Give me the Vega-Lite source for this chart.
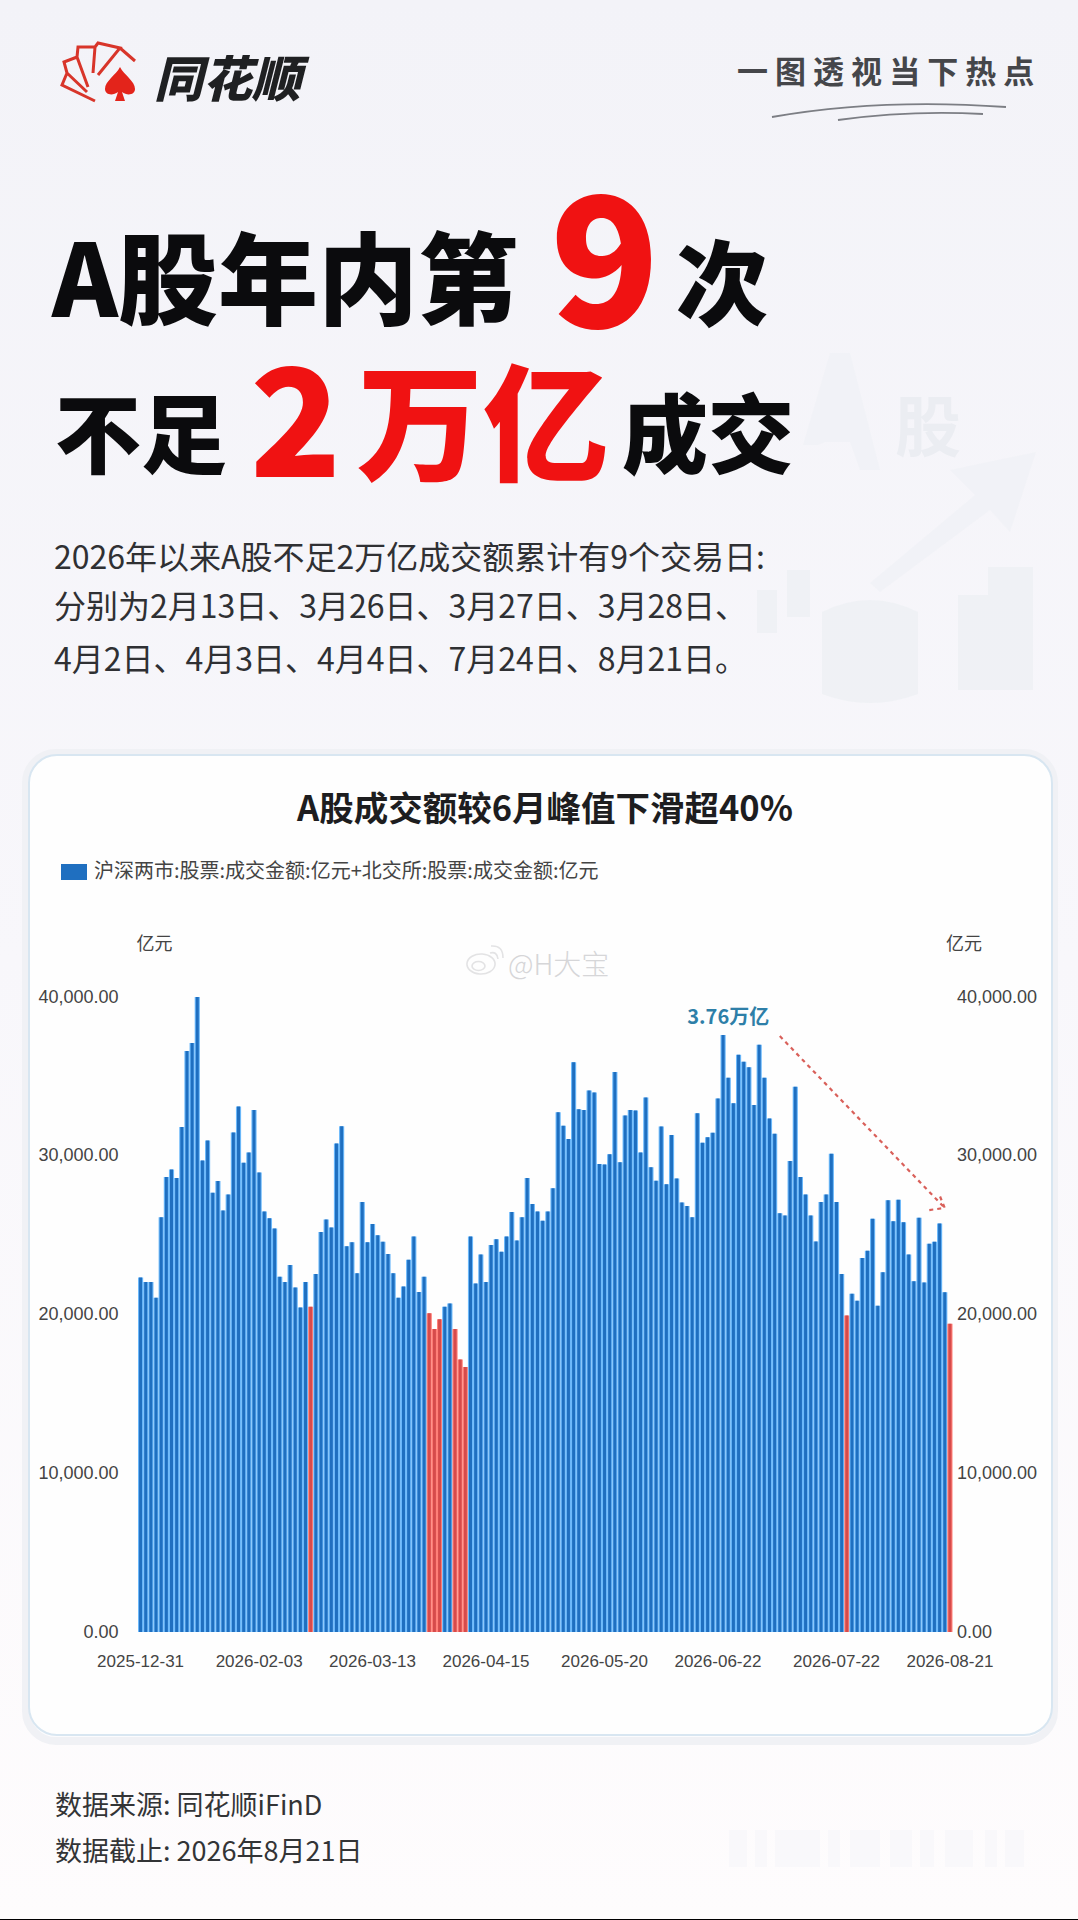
{
  "$schema": "https://vega.github.io/schema/vega-lite/v6.json",
  "description": "A股成交额较6月峰值下滑超40%",
  "width": 814.5,
  "height": 635,
  "padding": {"left": 138, "top": 997, "right": 125.5, "bottom": 288},
  "autosize": {"type": "none"},
  "background": "#f8f7fa",
  "config": {"font": "Noto Sans CJK SC", "view": {"stroke": null}},
  "datasets": {
    "turnover": [
      {"date":"2025-12-31","amount":22323,"status":"常规"},{"date":"2026-01-02","amount":22041,"status":"常规"},{"date":"2026-01-05","amount":22041,"status":"常规"},{"date":"2026-01-06","amount":21056,"status":"常规"},{"date":"2026-01-07","amount":26123,"status":"常规"},{"date":"2026-01-08","amount":28657,"status":"常规"},{"date":"2026-01-09","amount":29135,"status":"常规"},{"date":"2026-01-12","amount":28600,"status":"常规"},{"date":"2026-01-13","amount":31810,"status":"常规"},{"date":"2026-01-14","amount":36595,"status":"常规"},
      {"date":"2026-01-15","amount":37102,"status":"常规"},{"date":"2026-01-16","amount":40000,"status":"常规"},{"date":"2026-01-19","amount":29698,"status":"常规"},{"date":"2026-01-20","amount":30965,"status":"常规"},{"date":"2026-01-21","amount":27671,"status":"常规"},{"date":"2026-01-22","amount":28403,"status":"常规"},{"date":"2026-01-23","amount":26545,"status":"常规"},{"date":"2026-01-26","amount":27559,"status":"常规"},{"date":"2026-01-27","amount":31472,"status":"常规"},{"date":"2026-01-28","amount":33104,"status":"常规"},
      {"date":"2026-01-29","amount":29558,"status":"常规"},{"date":"2026-01-30","amount":30205,"status":"常规"},{"date":"2026-02-02","amount":32879,"status":"常规"},{"date":"2026-02-03","amount":28938,"status":"常规"},{"date":"2026-02-04","amount":26489,"status":"常规"},{"date":"2026-02-05","amount":26067,"status":"常规"},{"date":"2026-02-06","amount":25419,"status":"常规"},{"date":"2026-02-07","amount":22379,"status":"常规"},{"date":"2026-02-08","amount":22041,"status":"常规"},{"date":"2026-02-09","amount":23111,"status":"常规"},
      {"date":"2026-02-10","amount":21704,"status":"常规"},{"date":"2026-02-11","amount":20437,"status":"常规"},{"date":"2026-02-12","amount":22041,"status":"常规"},{"date":"2026-02-13","amount":20493,"status":"不足2万亿"},{"date":"2026-02-26","amount":22548,"status":"常规"},{"date":"2026-02-27","amount":25194,"status":"常规"},{"date":"2026-03-02","amount":25982,"status":"常规"},{"date":"2026-03-03","amount":25476,"status":"常规"},{"date":"2026-03-04","amount":30768,"status":"常规"},{"date":"2026-03-05","amount":31866,"status":"常规"},
      {"date":"2026-03-06","amount":24293,"status":"常规"},{"date":"2026-03-09","amount":24547,"status":"常规"},{"date":"2026-03-10","amount":22604,"status":"常规"},{"date":"2026-03-11","amount":27080,"status":"常规"},{"date":"2026-03-12","amount":24547,"status":"常规"},{"date":"2026-03-13","amount":25701,"status":"常规"},{"date":"2026-03-16","amount":24997,"status":"常规"},{"date":"2026-03-17","amount":24575,"status":"常规"},{"date":"2026-03-18","amount":23815,"status":"常规"},{"date":"2026-03-19","amount":22604,"status":"常规"},
      {"date":"2026-03-20","amount":21056,"status":"常规"},{"date":"2026-03-21","amount":21760,"status":"常规"},{"date":"2026-03-22","amount":23449,"status":"常规"},{"date":"2026-03-23","amount":24913,"status":"常规"},{"date":"2026-03-24","amount":21422,"status":"常规"},{"date":"2026-03-25","amount":22379,"status":"常规"},{"date":"2026-03-26","amount":20071,"status":"不足2万亿"},{"date":"2026-03-27","amount":19086,"status":"不足2万亿"},{"date":"2026-03-28","amount":19705,"status":"不足2万亿"},{"date":"2026-03-31","amount":20493,"status":"常规"},
      {"date":"2026-04-01","amount":20690,"status":"常规"},{"date":"2026-04-02","amount":19086,"status":"不足2万亿"},{"date":"2026-04-03","amount":17172,"status":"不足2万亿"},{"date":"2026-04-04","amount":16693,"status":"不足2万亿"},{"date":"2026-04-10","amount":24913,"status":"常规"},{"date":"2026-04-13","amount":21957,"status":"常规"},{"date":"2026-04-14","amount":23787,"status":"常规"},{"date":"2026-04-15","amount":22041,"status":"常规"},{"date":"2026-04-16","amount":24378,"status":"常规"},{"date":"2026-04-17","amount":24744,"status":"常规"},
      {"date":"2026-04-20","amount":23956,"status":"常规"},{"date":"2026-04-21","amount":24913,"status":"常规"},{"date":"2026-04-22","amount":26461,"status":"常规"},{"date":"2026-04-23","amount":24659,"status":"常规"},{"date":"2026-04-24","amount":26123,"status":"常规"},{"date":"2026-04-27","amount":28600,"status":"常规"},{"date":"2026-04-28","amount":26968,"status":"常规"},{"date":"2026-04-29","amount":26489,"status":"常规"},{"date":"2026-04-30","amount":25898,"status":"常规"},{"date":"2026-05-05","amount":26489,"status":"常规"},
      {"date":"2026-05-06","amount":27953,"status":"常规"},{"date":"2026-05-07","amount":32738,"status":"常规"},{"date":"2026-05-08","amount":31894,"status":"常规"},{"date":"2026-05-11","amount":31049,"status":"常规"},{"date":"2026-05-12","amount":35891,"status":"常规"},{"date":"2026-05-13","amount":32936,"status":"常规"},{"date":"2026-05-14","amount":32879,"status":"常规"},{"date":"2026-05-15","amount":34118,"status":"常规"},{"date":"2026-05-18","amount":33977,"status":"常规"},{"date":"2026-05-19","amount":29473,"status":"常规"},
      {"date":"2026-05-20","amount":29445,"status":"常规"},{"date":"2026-05-21","amount":30092,"status":"常规"},{"date":"2026-05-22","amount":35272,"status":"常规"},{"date":"2026-05-25","amount":29586,"status":"常规"},{"date":"2026-05-26","amount":32541,"status":"常规"},{"date":"2026-05-27","amount":32879,"status":"常规"},{"date":"2026-05-28","amount":32851,"status":"常规"},{"date":"2026-05-29","amount":30205,"status":"常规"},{"date":"2026-06-01","amount":33667,"status":"常规"},{"date":"2026-06-02","amount":29276,"status":"常规"},
      {"date":"2026-06-03","amount":28432,"status":"常规"},{"date":"2026-06-04","amount":31838,"status":"常规"},{"date":"2026-06-05","amount":28206,"status":"常规"},{"date":"2026-06-08","amount":31303,"status":"常规"},{"date":"2026-06-09","amount":28572,"status":"常规"},{"date":"2026-06-10","amount":27052,"status":"常规"},{"date":"2026-06-11","amount":26827,"status":"常规"},{"date":"2026-06-12","amount":26123,"status":"常规"},{"date":"2026-06-15","amount":32682,"status":"常规"},{"date":"2026-06-16","amount":30824,"status":"常规"},
      {"date":"2026-06-17","amount":31162,"status":"常规"},{"date":"2026-06-18","amount":31444,"status":"常规"},{"date":"2026-06-22","amount":33611,"status":"常规"},{"date":"2026-06-23","amount":37600,"status":"常规"},{"date":"2026-06-24","amount":34906,"status":"常规"},{"date":"2026-06-25","amount":33301,"status":"常规"},{"date":"2026-06-26","amount":36370,"status":"常规"},{"date":"2026-06-27","amount":35919,"status":"常规"},{"date":"2026-06-29","amount":35582,"status":"常规"},{"date":"2026-06-30","amount":33189,"status":"常规"},
      {"date":"2026-07-01","amount":36989,"status":"常规"},{"date":"2026-07-02","amount":34906,"status":"常规"},{"date":"2026-07-03","amount":32344,"status":"常规"},{"date":"2026-07-06","amount":31387,"status":"常规"},{"date":"2026-07-07","amount":26377,"status":"常规"},{"date":"2026-07-08","amount":26236,"status":"常规"},{"date":"2026-07-09","amount":29670,"status":"常规"},{"date":"2026-07-10","amount":34343,"status":"常规"},{"date":"2026-07-13","amount":28657,"status":"常规"},{"date":"2026-07-14","amount":27559,"status":"常规"},
      {"date":"2026-07-15","amount":26236,"status":"常规"},{"date":"2026-07-16","amount":24603,"status":"常规"},{"date":"2026-07-17","amount":27080,"status":"常规"},{"date":"2026-07-20","amount":27559,"status":"常规"},{"date":"2026-07-21","amount":30121,"status":"常规"},{"date":"2026-07-22","amount":27080,"status":"常规"},{"date":"2026-07-23","amount":22548,"status":"常规"},{"date":"2026-07-24","amount":19930,"status":"不足2万亿"},{"date":"2026-07-27","amount":21310,"status":"常规"},{"date":"2026-07-28","amount":20859,"status":"常规"},
      {"date":"2026-07-29","amount":23562,"status":"常规"},{"date":"2026-07-30","amount":24012,"status":"常规"},{"date":"2026-07-31","amount":26039,"status":"常规"},{"date":"2026-08-03","amount":20550,"status":"常规"},{"date":"2026-08-04","amount":22661,"status":"常规"},{"date":"2026-08-05","amount":27193,"status":"常规"},{"date":"2026-08-06","amount":25870,"status":"常规"},{"date":"2026-08-07","amount":27221,"status":"常规"},{"date":"2026-08-10","amount":25814,"status":"常规"},{"date":"2026-08-11","amount":23787,"status":"常规"},
      {"date":"2026-08-12","amount":22098,"status":"常规"},{"date":"2026-08-13","amount":26095,"status":"常规"},{"date":"2026-08-14","amount":22013,"status":"常规"},{"date":"2026-08-17","amount":24462,"status":"常规"},{"date":"2026-08-18","amount":24575,"status":"常规"},{"date":"2026-08-19","amount":25729,"status":"常规"},{"date":"2026-08-20","amount":21394,"status":"常规"},{"date":"2026-08-21","amount":19424,"status":"不足2万亿"}
    ],
    "trend": [
      {"date":"2026-07-07","amount":37540,"part":"shaft","step":1},{"date":"2026-08-20","amount":26710,"part":"shaft","step":2},
      {"date":"2026-08-17","amount":26580,"part":"head","step":1},{"date":"2026-08-20","amount":26710,"part":"head","step":2},{"date":"2026-08-19","amount":27500,"part":"head","step":3}
    ],
    "blank": [{"id": 1}]
  },
  "resolve": {"axis": {"y": "independent"}},
  "layer": [
    {"data": {"name": "blank"}, "mark": {"type": "rect", "fill": {"gradient": "linear", "x1": 0, "y1": 0, "x2": 0, "y2": 1, "stops": [{"offset": 0, "color": "#f3f3f8"}, {"offset": 0.5, "color": "#f8f7fb"}, {"offset": 1, "color": "#fefcfd"}]}},
      "encoding": {"x": {"value": -138}, "x2": {"value": 940}, "y": {"value": -997}, "y2": {"value": 922}}},
    {"data": {"name": "blank"}, "mark": {"type": "rect", "fill": "#000000"}, "encoding": {"x": {"value": -138}, "x2": {"value": 940}, "y": {"value": 922}, "y2": {"value": 923}}},
    {"data": {"name": "blank"}, "mark": {"type": "point", "filled": true, "fill": "#eef0f4", "opacity": 0.8, "size": 4,
      "shape": "M757,590h20v43h-20Z M787,570h23v47h-23Z M822,612q48,-24 96,0v82q-48,18 -96,0Z M958,595h30v95h-30Z M988,567h45v123h-45Z"},
      "encoding": {"x": {"value": -138}, "y": {"value": -997}}},
    {"data": {"name": "blank"}, "mark": {"type": "point", "filled": true, "fill": "#f1f2f6", "opacity": 0.9, "size": 4,
      "shape": "M803,445L830,353H850L880,470H860L850,442H825L818,445Z M870,583L975,495L950,470L1036,452L1010,532L990,510L880,592Z"},
      "encoding": {"x": {"value": -138}, "y": {"value": -997}}},
    {"data": {"values": [{"t": "股"}]}, "mark": {"type": "text", "align": "left", "baseline": "alphabetic", "fontSize": 66, "fontWeight": 700, "color": "#ebedf2"},
      "encoding": {"x": {"value": 757}, "y": {"value": -546}, "text": {"field": "t"}}},
    {"data": {"name": "blank"}, "mark": {"type": "point", "filled": true, "fill": "#f6f6f9", "size": 4,
      "shape": "M729,1830h18v37h-18Z M755,1830h12v37h-12Z M775,1830h45v37h-45Z M828,1830h12v37h-12Z M850,1830h30v37h-30Z M890,1830h22v37h-22Z M920,1830h14v37h-14Z M945,1830h28v37h-28Z M985,1830h12v37h-12Z M1005,1830h19v37h-19Z"},
      "encoding": {"x": {"value": -138}, "y": {"value": -997}}},
    {"data": {"name": "blank"}, "mark": {"type": "rect", "fill": "#fbfbfd", "stroke": "#f0f1f5", "strokeWidth": 8, "cornerRadius": 30},
      "encoding": {"x": {"value": -112}, "x2": {"value": 916}, "y": {"value": -244}, "y2": {"value": 744}}},
    {"data": {"name": "blank"}, "mark": {"type": "rect", "fill": "#fefefe", "stroke": "#d8e6f1", "strokeWidth": 2, "cornerRadius": 28},
      "encoding": {"x": {"value": -109}, "x2": {"value": 914}, "y": {"value": -242}, "y2": {"value": 738}}},
    {"data": {"values": [{"t": "A股成交额较6月峰值下滑超40%"}]}, "mark": {"type": "text", "align": "center", "baseline": "middle", "fontSize": 34.5, "fontWeight": 700, "color": "#1d1d1f"},
      "encoding": {"x": {"value": 407}, "y": {"value": -186}, "text": {"field": "t"}}},

    {"data": {"name": "turnover"},
      "mark": {"type": "bar", "width": {"band": 1}},
      "encoding": {
        "x": {"field": "date", "type": "nominal", "title": null,
          "scale": {"type": "band", "paddingInner": 0, "paddingOuter": 0},
          "axis": {"zindex": 1, "orient": "bottom", "labelExpr": "indexof(['2025-12-31','2026-02-03','2026-03-13','2026-04-15','2026-05-20','2026-06-22','2026-07-22','2026-08-21'], datum.value) >= 0 ? datum.value : ''", "labelAngle": 0, "labelFontSize": 17, "labelFont": "Liberation Sans", "labelColor": "#444444", "labelPadding": 21, "domain": false, "ticks": false, "labelOverlap": false, "labelBound": false, "labelFlush": false}},
        "y": {"field": "amount", "type": "quantitative", "scale": {"domain": [0, 40000]},
          "axis": {"zindex": 1, "orient": "left", "values": [0, 10000, 20000, 30000, 40000], "format": ",.2f", "grid": false, "domain": false, "ticks": false, "labelFontSize": 18, "labelFont": "Liberation Sans", "labelColor": "#444444", "labelPadding": 20,
            "title": "亿元", "titleAngle": 0, "titleFontSize": 18, "titleFontWeight": 400, "titleColor": "#444444", "titleX": 16, "titleY": -53, "titleAlign": "center", "titleBaseline": "middle"}},
        "color": {"condition": {"test": "datum.status === '不足2万亿'", "value": "#ff8078"}, "value": "#6bb8fa"}
      }},
    {"data": {"name": "turnover"},
      "mark": {"type": "bar", "width": {"band": 0.58}},
      "encoding": {
        "x": {"field": "date", "type": "nominal", "title": null},
        "y": {"field": "amount", "type": "quantitative", "scale": {"domain": [0, 40000]},
          "axis": {"zindex": 1, "orient": "right", "values": [0, 10000, 20000, 30000, 40000], "format": ",.2f", "grid": false, "domain": false, "ticks": false, "labelFontSize": 18, "labelFont": "Liberation Sans", "labelColor": "#444444", "labelPadding": 4,
            "title": "亿元", "titleAngle": 0, "titleFontSize": 18, "titleFontWeight": 400, "titleColor": "#444444", "titleX": 11, "titleY": -53, "titleAlign": "center", "titleBaseline": "middle"}},
        "color": {"field": "status", "type": "nominal",
          "scale": {"domain": ["常规", "不足2万亿"], "range": ["#1f6fc0", "#d64b4b"]},
          "legend": {"values": ["常规"], "labelExpr": "'沪深两市:股票:成交金额:亿元+北交所:股票:成交金额:亿元'", "title": null, "orient": "none", "legendX": -74, "legendY": -135, "symbolType": "M-1.3,-.8H1.3V.8H-1.3Z", "symbolSize": 400, "symbolStrokeWidth": 0, "labelFontSize": 20, "labelOffset": 10, "labelColor": "#444444", "labelLimit": 620}}
      }},

    {"data": {"name": "trend"},
      "mark": {"type": "line", "color": "#d9605a", "strokeWidth": 2.2, "strokeDash": [4, 4]},
      "encoding": {
        "x": {"field": "date", "type": "nominal", "title": null},
        "y": {"field": "amount", "type": "quantitative", "axis": null},
        "detail": {"field": "part"},
        "order": {"field": "step"}
      }},
    {"data": {"values": [{"date": "2026-06-24", "amount": 38680, "label": "3.76万亿"}]},
      "mark": {"type": "text", "fontSize": 20, "fontWeight": 700, "color": "#2e7fa8"},
      "encoding": {
        "x": {"field": "date", "type": "nominal", "title": null},
        "y": {"field": "amount", "type": "quantitative", "axis": null},
        "text": {"field": "label"}
      }},

    {"data": {"name": "blank"}, "mark": {"type": "point", "filled": false, "stroke": "#d8d8da", "strokeWidth": 1.6, "size": 4,
      "shape": "M467,963a14,10 0 1,0 28,2a14,10 0 1,0 -28,-2Z M472,966a6.5,4.5 0 1,0 13,0a6.5,4.5 0 1,0 -13,0Z M490,953q7,-2 8,6 M491,946q12,-1 12,12"},
      "encoding": {"x": {"value": -138}, "y": {"value": -997}}},
    {"data": {"values": [{"t": "@H大宝"}]}, "mark": {"type": "text", "align": "left", "baseline": "alphabetic", "fontSize": 28, "fontWeight": 300, "color": "#d6d6d8"},
      "encoding": {"x": {"value": 370}, "y": {"value": -22}, "text": {"field": "t"}}},

    {"data": {"name": "blank"}, "mark": {"type": "point", "filled": false, "stroke": "#d8352a", "strokeWidth": 3, "opacity": 1, "size": 4,
      "shape": "M95,101L62,85L67,73L87,92 M67,73L64,62L77,57L88,87 M77,57L78,47L95,47L93,73 M95,47L98,43L120,48L98,75 M120,48L135,61"},
      "encoding": {"x": {"value": -138}, "y": {"value": -997}}},
    {"data": {"name": "blank"}, "mark": {"type": "point", "filled": true, "fill": "#e3241b", "opacity": 1, "size": 4,
      "shape": "M120,67C124,75 135,81 135,89C135,95 127,96 122,92L125,101H115L118,92C113,96 105,95 105,89C105,81 116,75 120,67Z"},
      "encoding": {"x": {"value": -138}, "y": {"value": -997}}},
    {"data": {"values": [{"t": "同花顺"}]}, "mark": {"type": "text", "align": "left", "baseline": "alphabetic", "fontSize": 49, "fontWeight": 900, "fontStyle": "italic", "color": "#1f2022"},
      "encoding": {"x": {"value": 16}, "y": {"value": -900}, "text": {"field": "t"}}},
    {"data": {"values": [{"t": "一 图 透 视 当 下 热 点"}]}, "mark": {"type": "text", "align": "left", "baseline": "alphabetic", "fontSize": 31, "fontWeight": 700, "color": "#45464a"},
      "encoding": {"x": {"value": 599}, "y": {"value": -914}, "text": {"field": "t"}}},
    {"data": {"name": "blank"}, "mark": {"type": "point", "filled": false, "stroke": "#7c7e84", "strokeWidth": 1.8, "opacity": 1, "size": 4,
      "shape": "M772,117Q880,98 1006,107 M838,120Q910,110 983,114"},
      "encoding": {"x": {"value": -138}, "y": {"value": -997}}},

    {"data": {"values": [{"t": "A股年内第"}]}, "mark": {"type": "text", "align": "left", "baseline": "alphabetic", "fontSize": 100, "fontWeight": 900, "color": "#0b0b0d"},
      "encoding": {"x": {"value": -86}, "y": {"value": -680}, "text": {"field": "t"}}},
    {"data": {"values": [{"t": "9"}]}, "mark": {"type": "text", "align": "left", "baseline": "alphabetic", "fontSize": 180, "fontWeight": 900, "color": "#f01212"},
      "encoding": {"x": {"value": 412}, "y": {"value": -670}, "text": {"field": "t"}}},
    {"data": {"values": [{"t": "次"}]}, "mark": {"type": "text", "align": "left", "baseline": "alphabetic", "fontSize": 92, "fontWeight": 900, "color": "#0b0b0d"},
      "encoding": {"x": {"value": 538}, "y": {"value": -679}, "text": {"field": "t"}}},
    {"data": {"values": [{"t": "不足"}]}, "mark": {"type": "text", "align": "left", "baseline": "alphabetic", "fontSize": 86, "fontWeight": 900, "color": "#0b0b0d"},
      "encoding": {"x": {"value": -83}, "y": {"value": -530}, "text": {"field": "t"}}},
    {"data": {"values": [{"t": "2"}]}, "mark": {"type": "text", "align": "left", "baseline": "alphabetic", "fontSize": 150, "fontWeight": 900, "color": "#f01212"},
      "encoding": {"x": {"value": 112}, "y": {"value": -520}, "text": {"field": "t"}}},
    {"data": {"values": [{"t": "万亿"}]}, "mark": {"type": "text", "align": "left", "baseline": "alphabetic", "fontSize": 126, "fontWeight": 900, "color": "#f01212"},
      "encoding": {"x": {"value": 219}, "y": {"value": -526}, "text": {"field": "t"}}},
    {"data": {"values": [{"t": "成交"}]}, "mark": {"type": "text", "align": "left", "baseline": "alphabetic", "fontSize": 86, "fontWeight": 900, "color": "#0b0b0d"},
      "encoding": {"x": {"value": 484}, "y": {"value": -530}, "text": {"field": "t"}}},

    {"data": {"values": [{"t": "2026年以来A股不足2万亿成交额累计有9个交易日:"}]}, "mark": {"type": "text", "align": "left", "baseline": "middle", "fontSize": 32, "color": "#2f3033"},
      "encoding": {"x": {"value": -84}, "y": {"value": -438}, "text": {"field": "t"}}},
    {"data": {"values": [{"t": "分别为2月13日、3月26日、3月27日、3月28日、"}]}, "mark": {"type": "text", "align": "left", "baseline": "middle", "fontSize": 32, "color": "#2f3033"},
      "encoding": {"x": {"value": -84}, "y": {"value": -389}, "text": {"field": "t"}}},
    {"data": {"values": [{"t": "4月2日、4月3日、4月4日、7月24日、8月21日。"}]}, "mark": {"type": "text", "align": "left", "baseline": "middle", "fontSize": 32, "color": "#2f3033"},
      "encoding": {"x": {"value": -84}, "y": {"value": -336}, "text": {"field": "t"}}},

    {"data": {"values": [{"t": "数据来源: 同花顺iFinD"}]}, "mark": {"type": "text", "align": "left", "baseline": "middle", "fontSize": 27, "color": "#333436"},
      "encoding": {"x": {"value": -83}, "y": {"value": 810}, "text": {"field": "t"}}},
    {"data": {"values": [{"t": "数据截止: 2026年8月21日"}]}, "mark": {"type": "text", "align": "left", "baseline": "middle", "fontSize": 27, "color": "#333436"},
      "encoding": {"x": {"value": -83}, "y": {"value": 856}, "text": {"field": "t"}}}
  ]
}
